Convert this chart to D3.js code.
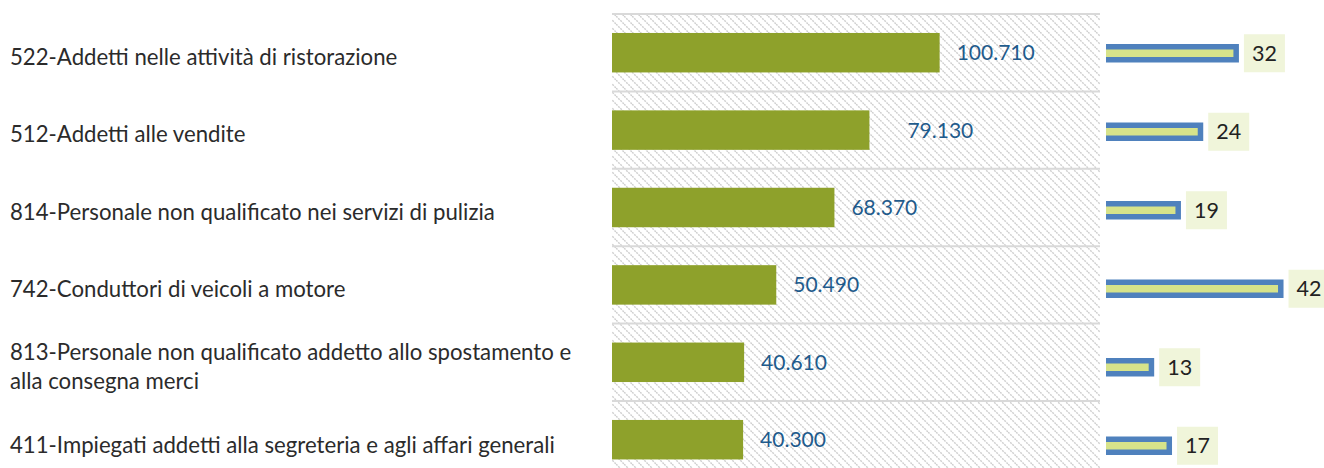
<!DOCTYPE html>
<html>
<head>
<meta charset="utf-8">
<script src="https://cdn.jsdelivr.net/npm/d3@7"></script>
<style>
  html, body { margin: 0; padding: 0; background: #ffffff; }
  svg { display: block; }
</style>
</head>
<body>
<svg id="chart" width="1324" height="468"></svg>
<script>
// ---- data ----
const categories = ["522", "512", "814", "742", "813", "411"];
const categoryLabels = [
  ["522-Addetti nelle attività di ristorazione"],
  ["512-Addetti alle vendite"],
  ["814-Personale non qualificato nei servizi di pulizia"],
  ["742-Conduttori di veicoli a motore"],
  ["813-Personale non qualificato addetto allo spostamento e", "alla consegna merci"],
  ["411-Impiegati addetti alla segreteria e agli affari generali"]
];
const hires = [100710, 79130, 68370, 50490, 40610, 40300];
const secondValues = [32, 24, 19, 42, 13, 17];
const hiresDomain = [0, 150000];
const secondDomain = [0, 50];
const labelShift = [0, 21, 0, 0, 0, 0];

// ---- setup ----
const W = 1324, H = 468;
const svg = d3.select("#chart");
const FONT = "Lato, 'Open Sans', sans-serif";
const fmt = d3.formatLocale({decimal: ",", thousands: ".", grouping: [3], currency: ["", "€"]}).format(",d");

const defs = svg.append("defs");
const pat = defs.append("pattern")
  .attr("id", "hatch").attr("patternUnits", "userSpaceOnUse")
  .attr("width", 8).attr("height", 8);
pat.append("rect").attr("width", 8).attr("height", 8).attr("fill", "#ffffff");
pat.append("path").attr("d", "M-2,-2 L10,10 M-2,6 L2,10 M6,-2 L10,2")
  .attr("stroke", "#cfcfcf").attr("stroke-width", 1.4).attr("stroke-dasharray", "2,1");

// ---- left (main) chart ----
const plotL = 612, plotR = 1100, plotTop = 14, rowH = 77.4;
const y = d3.scaleBand().domain(categories)
  .range([plotTop, plotTop + rowH * categories.length])
  .paddingInner(0.49).paddingOuter(0.245);
const x = d3.scaleLinear().domain(hiresDomain).range([plotL, plotR]);

svg.append("rect")
  .attr("x", x(hiresDomain[0])).attr("y", plotTop)
  .attr("width", x(hiresDomain[1]) - x(hiresDomain[0]))
  .attr("height", rowH * categories.length)
  .attr("fill", "url(#hatch)");

// row separators
const sepYs = d3.range(categories.length + 1).map(i => plotTop + i * y.step());
svg.append("g").selectAll("line").data(sepYs).join("line")
  .attr("x1", x(hiresDomain[0])).attr("x2", x(hiresDomain[1]))
  .attr("y1", d => d).attr("y2", d => d)
  .attr("stroke", "#d9d9d9").attr("stroke-width", 2);

svg.append("g").selectAll("rect").data(hires).join("rect")
  .attr("x", x(0))
  .attr("y", (d, i) => y(categories[i]))
  .attr("width", d => x(d) - x(0))
  .attr("height", y.bandwidth())
  .attr("fill", "#8EA12B");

svg.append("g").selectAll("text").data(hires).join("text")
  .attr("x", (d, i) => x(d) + 17 + labelShift[i])
  .attr("y", (d, i) => y(categories[i]) + y.bandwidth() / 2)
  .attr("dy", "0.36em")
  .attr("font-family", FONT).attr("font-size", 21)
  .attr("fill", "#1F5B8C")
  .text(d => fmt(d));

// ---- category labels ----
const labelStep = 77.6, labelBase0 = 64.5;
const lg = svg.append("g");
categoryLabels.forEach((lines, i) => {
  const base = labelBase0 + i * labelStep;
  const lh = 29;
  const start = base - (lines.length - 1) * lh / 2;
  lines.forEach((t, j) => {
    lg.append("text")
      .attr("x", 10).attr("y", start + j * lh)
      .attr("font-family", FONT).attr("font-size", 22.2)
      .attr("fill", "#2b2b2b")
      .text(t);
  });
});

// ---- right (secondary) chart ----
const y2 = d3.scaleBand().domain(categories)
  .range([plotTop, plotTop + 78.5 * categories.length]).paddingInner(0).paddingOuter(0);
const x2 = d3.scaleLinear().domain(secondDomain).range([1096.2, 1319.2]);
const clipLeft = 1106;
const barH2 = 18.5, border = 5.5;

const rg = svg.append("g");
secondValues.forEach((v, i) => {
  const cy = y2(categories[i]) + y2.bandwidth() / 2;
  const xe = x2(v);
  rg.append("rect")
    .attr("x", clipLeft).attr("y", cy - barH2 / 2)
    .attr("width", xe - clipLeft).attr("height", barH2)
    .attr("fill", "#4F81BD");
  rg.append("rect")
    .attr("x", clipLeft).attr("y", cy - barH2 / 2 + border)
    .attr("width", Math.max(0, xe - border - clipLeft)).attr("height", barH2 - 2 * border)
    .attr("fill", "#D7E38A");
  rg.append("rect")
    .attr("x", xe + 5).attr("y", cy - 19)
    .attr("width", 41).attr("height", 38)
    .attr("fill", "#F0F5DA");
  rg.append("text")
    .attr("x", xe + 5 + 20.5).attr("y", cy)
    .attr("dy", "0.36em").attr("text-anchor", "middle")
    .attr("font-family", FONT).attr("font-size", 21.5)
    .attr("fill", "#222222")
    .text(v);
});
</script>
</body>
</html>
